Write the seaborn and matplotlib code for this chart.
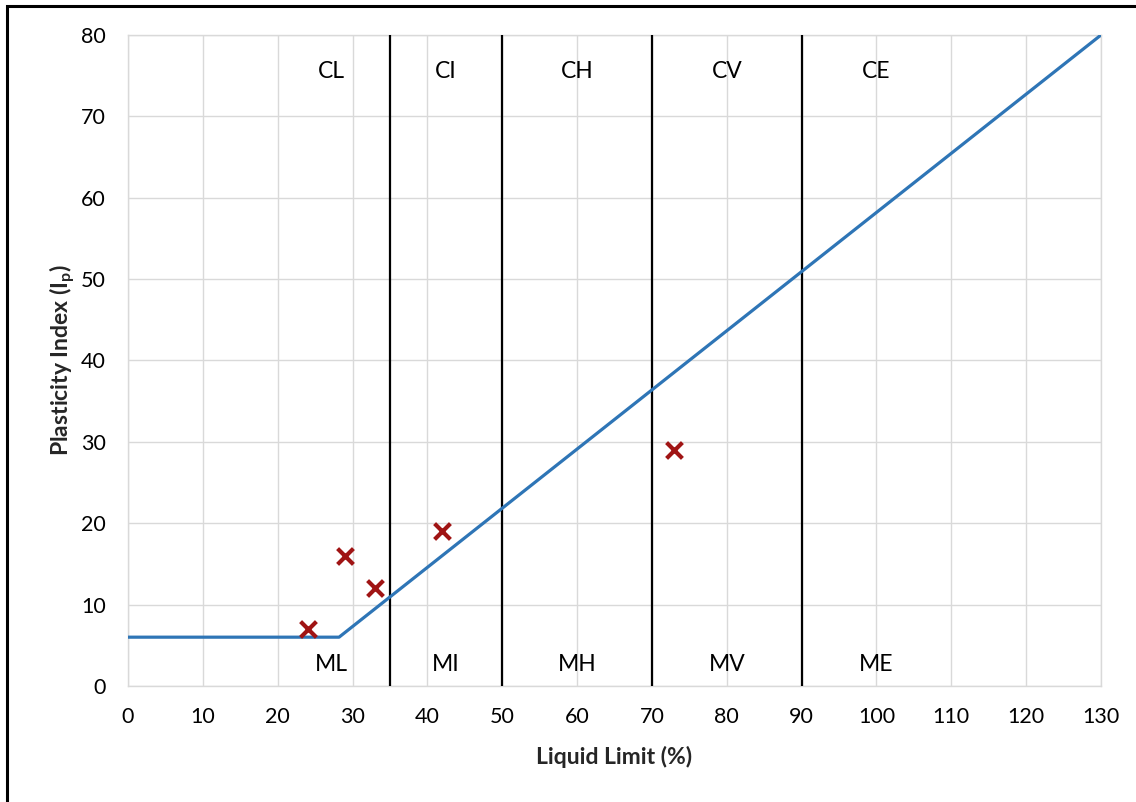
import matplotlib
matplotlib.use("Agg")
import matplotlib.pyplot as plt
from matplotlib.patches import Rectangle
import seaborn as sns
import pandas as pd

# A-line vertices (liquid limit, plasticity index)
aline_ll = [0, 28.2, 130]
aline_pi = [6, 6, 80]

# Sample results
sample_ll = [24, 29, 33, 42, 73]
sample_pi = [7, 16, 12, 19, 29]

# Zone boundaries on liquid limit
boundaries = [35, 50, 70, 90]

# Zone labels (above / below the A-line)
upper_labels = ["CL", "CI", "CH", "CV", "CE"]
lower_labels = ["ML", "MI", "MH", "MV", "ME"]
label_x = [27.2, 42.5, 60, 80, 100]
upper_y = 75.5
lower_y = 2.6

x_ticks = list(range(0, 131, 10))
y_ticks = list(range(0, 81, 10))

sns.set_theme(style="white")
plt.rcParams["font.family"] = ["Lato", "DejaVu Sans"]
plt.rcParams["mathtext.fontset"] = "custom"
plt.rcParams["mathtext.rm"] = "Lato"
plt.rcParams["mathtext.bf"] = "Lato:bold"

fig = plt.figure(figsize=(11.36, 8.02), dpi=100)
ax = fig.add_axes([128 / 1136, 1 - 686 / 802, 973 / 1136, 651 / 802])

aline = pd.DataFrame({"LL": aline_ll, "PI": aline_pi})
samples = pd.DataFrame({"LL": sample_ll, "PI": sample_pi})

for b in boundaries:
    ax.plot([b, b], [0, 80], color="black", lw=1.6, zorder=3)

sns.lineplot(data=aline, x="LL", y="PI", ax=ax, color="#2E75B6", lw=2.3,
             sort=False, zorder=4)
sns.scatterplot(data=samples, x="LL", y="PI", ax=ax, marker="x", s=130,
                color="#A01414", linewidth=3, zorder=5)

for lab, x in zip(upper_labels, label_x):
    ax.text(x, upper_y, lab, ha="center", va="center", fontsize=16.5, color="black")
for lab, x in zip(lower_labels, label_x):
    ax.text(x, lower_y, lab, ha="center", va="center", fontsize=16.5, color="black")

ax.set_xlim(0, 130)
ax.set_ylim(0, 80)
ax.set_xticks(x_ticks)
ax.set_yticks(y_ticks)
ax.tick_params(axis="both", labelsize=15.5, colors="black", length=0)
ax.tick_params(axis="x", pad=15)
ax.tick_params(axis="y", pad=16)
ax.grid(True, color="#d9d9d9", lw=1.0)
ax.set_axisbelow(True)
for s in ax.spines.values():
    s.set_color("#d9d9d9")
    s.set_linewidth(1.0)

ax.set_xlabel("Liquid Limit (%)", fontsize=16.5, fontweight="bold", labelpad=14)
ax.set_ylabel(r"Plasticity Index (I$_\mathbf{p}$)", fontsize=16.5,
              fontweight="bold", labelpad=2)

fig.patches.append(Rectangle((7 / 1136, -0.05), 1.2, 1 - 6 / 802 + 0.05,
                             transform=fig.transFigure, fill=False,
                             edgecolor="black", lw=2.2))

fig.savefig("out.png", dpi=100)
